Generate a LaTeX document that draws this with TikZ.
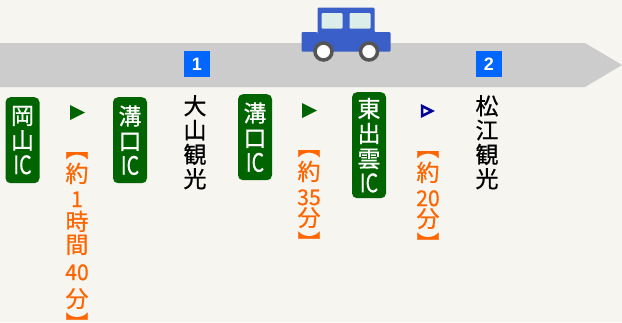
\documentclass[tikz,border=0pt]{standalone}
\usepackage{fontspec}
\newfontfamily\jpfont[FakeBold=0.6]{Noto Sans CJK JP}
\setmainfont{Liberation Sans}
\usetikzlibrary{positioning}
\definecolor{bgcolor}{HTML}{F7F5F0}
\definecolor{roadgray}{HTML}{CCCCCC}
\definecolor{badgeblue}{HTML}{0066FF}
\definecolor{carblue}{HTML}{3A5FC8}
\definecolor{carglass}{HTML}{DCEEEA}
\definecolor{wheelgray}{HTML}{555555}
\definecolor{signgreen}{HTML}{006400}
\definecolor{timeorange}{HTML}{FF6600}
\definecolor{navyblue}{HTML}{000099}
\newcommand{\numtxt}[1]{\scalebox{.92}[.95]{#1}}
\newcommand{\icmark}{\scalebox{.85}[1.1]{IC}}
\tikzset{
  sign/.style={fill=signgreen,rounded corners=5pt,text=white,inner sep=0pt,minimum width=34pt,
    align=center,anchor=north,font=\jpfont\fontsize{23}{25}\selectfont},
  place/.style={inner sep=0pt,align=center,anchor=north,font=\jpfont\fontsize{23}{24.3}\selectfont},
  time/.style={inner sep=0pt,align=center,anchor=north,text=timeorange,font=\jpfont\fontsize{23}{25}\selectfont},
  badge/.style={fill=badgeblue,text=white,inner sep=0pt,minimum size=26pt,font=\bfseries\fontsize{18}{18}\selectfont},
  wheel/.style={circle,fill=white,draw=wheelgray,line width=3.5pt,inner sep=0pt,minimum size=17pt}
}
\begin{document}
\begin{tikzpicture}[x=1pt,y=-1pt]
  \useasboundingbox (0,0) rectangle (622,322);
  \fill[bgcolor] (0,0) rectangle (622,322);
  % road
  \fill[roadgray] (0,43) -- (585,43) -- (622,65) -- (585,87) -- (0,87) -- cycle;
  \node[badge](badge1) at (197,64){1};
  \node[badge](badge2) at (489,64){2};
  % car
  \fill[carblue,rounded corners=1pt] (317.5,35) -- (317.5,7.5) -- (374.5,7.5) -- (374.5,32) -- (390.5,32) -- (390.5,51.5) -- (301.5,51.5) -- (301.5,32) -- (317.5,32) -- cycle;
  \fill[carglass,rounded corners=1pt] (321.5,13) rectangle (342.5,28.5);
  \fill[carglass,rounded corners=1pt] (349.5,13) rectangle (370.5,28.5);
  \node[wheel](wheel1) at (323.5,51.5){};
  \node[wheel](wheel2) at (369,51.5){};
  % signs
  \node[sign,minimum height=86pt](okayama) at (22.5,97){岡\\山\\\icmark};
  \node[sign,minimum height=86pt](mizo1) at (130,97){溝\\口\\\icmark};
  \node[sign,minimum height=86pt](mizo2) at (255,94){溝\\口\\\icmark};
  \node[sign,minimum height=106pt](higashi) at (369,92){東\\出\\雲\\\icmark};
  % places
  \node[place](daisen) at (195,95){大\\山\\観\\光};
  \node[place](matsue) at (487,95){松\\江\\観\\光};
  % triangles
  \fill[signgreen] (70,105) -- (85,112.5) -- (70,120) -- cycle;
  \fill[signgreen] (302,103) -- (317,110.5) -- (302,118) -- cycle;
  \draw[navyblue,line width=2.5pt] (422,106) -- (432,111) -- (422,116) -- cycle;
  % times
  \node[time](time1) at (77,152){︻\\約\\\numtxt{1}\\[-2pt]時\\[-2pt]間\\[2pt]\numtxt{40}\\[2pt]分\\︼};
  \node[time](time2) at (309,150){︻\\約\\\numtxt{35}\\[-4pt]分\\︼};
  \node[time](time3) at (428,151){︻\\約\\\numtxt{20}\\[-4pt]分\\︼};
\end{tikzpicture}
\end{document}
